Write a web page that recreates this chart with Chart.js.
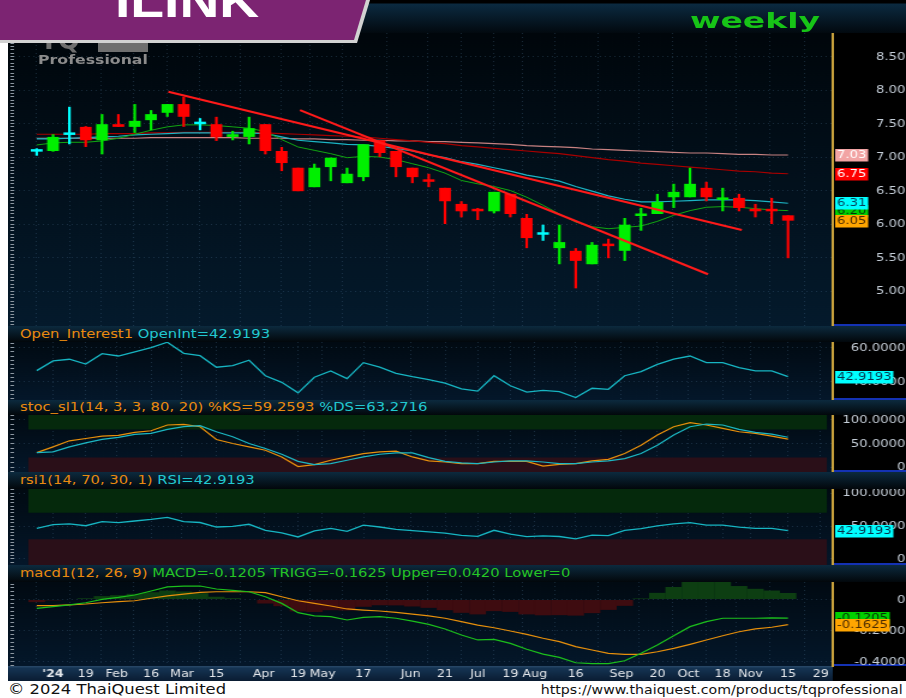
<!DOCTYPE html>
<html>
<head>
<meta charset="utf-8">
<title>ILINK weekly</title>
<script src="https://cdn.jsdelivr.net/npm/chart.js@4.4.1/dist/chart.umd.min.js"></script>
<style>
  html, body { margin: 0; padding: 0; }
  body { position: relative; width: 906px; height: 698px; overflow: hidden; background: #fff; font-family: "DejaVu Sans", sans-serif; }
  canvas { position: absolute; left: 8px; }
  .strip { position: absolute; left: 8px; width: 898px; }
  #head { top: 0; height: 33px; background: linear-gradient(#000 0, #000 3px, #0b2a40 4px, #02090f 100%); }
  .ttl { background: linear-gradient(#0c2a3e, #02070b); }
  .ttl div { position: absolute; left: 12px; top: 0; white-space: nowrap; font-size: 12.3px; transform: scaleX(1.2); transform-origin: 0 50%; }
  .or { color: #e98a10; } .cy { color: #22c8d0; } .gr { color: #25c425; }
  #bannerEdge { position: absolute; left: 0; top: 0; width: 370px; height: 43px; background: #d2d2d2; clip-path: polygon(0 0, 370px 0, 357px 43px, 0 43px); z-index: 5; }
  #banner { position: absolute; left: 0; top: 0; width: 366px; height: 40px; background: #7c2472; clip-path: polygon(0 0, 366px 0, 354px 40px, 0 40px); z-index: 6; overflow: hidden; }
  #banner span { position: absolute; left: 115px; top: -26px; font: bold 46px/54px "Liberation Sans", sans-serif; color: #fff; transform: scaleX(1.2); transform-origin: 0 0; }
  #weekly { position: absolute; left: 690px; top: 8px; font: bold 22px/26px "DejaVu Sans", sans-serif; color: #17c417; transform: scaleX(1.5); transform-origin: 0 0; z-index: 4; }
  #logo { position: absolute; left: 40px; top: 26px; font: bold 26px/28px "DejaVu Sans", sans-serif; color: #6f6f6f; z-index: 3; }
  #logoBlk { position: absolute; left: 98px; top: 40px; width: 50px; height: 12px; background: #6f6f6f; z-index: 3; }
  #prof { position: absolute; left: 38px; top: 53px; font: bold 12.5px/14px "DejaVu Sans", sans-serif; color: #8c8c8c; transform: scaleX(1.26); transform-origin: 0 0; z-index: 3; }
  #copy { position: absolute; left: 8px; top: 681px; font: 14px/17px "DejaVu Sans", sans-serif; color: #111; transform: scaleX(1.17); transform-origin: 0 0; }
  #url { position: absolute; right: 3px; top: 683px; font: 12px/15px "DejaVu Sans", sans-serif; color: #111; transform: scaleX(1.18); transform-origin: 100% 0; }
</style>
</head>
<body>
<div id="head" class="strip"></div>
<div id="bannerEdge"></div>
<div id="banner"><span>ILINK</span></div>
<div id="weekly">weekly</div>

<canvas id="cMain" width="748" height="293" style="top:33px;width:898px;height:293px"></canvas>
<div id="logo">TQ</div><div id="logoBlk"></div><div id="prof">Professional</div>

<div class="strip ttl" style="top:326px;height:16px"><div style="line-height:16px"><span class="or">Open_Interest1</span> <span class="cy">OpenInt=42.9193</span></div></div>
<canvas id="cOI" width="748" height="58" style="top:342px;width:898px;height:58px"></canvas>

<div class="strip ttl" style="top:400px;height:15px"><div style="line-height:15px"><span class="or">stoc_sl1(14, 3, 3, 80, 20) %KS=59.2593</span> <span class="cy">%DS=63.2716</span></div></div>
<canvas id="cSto" width="748" height="57" style="top:415px;width:898px;height:57px"></canvas>

<div class="strip ttl" style="top:472px;height:17px"><div style="line-height:17px"><span class="or">rsi1(14, 70, 30, 1)</span> <span class="cy">RSI=42.9193</span></div></div>
<canvas id="cRsi" width="748" height="76" style="top:489px;width:898px;height:76px"></canvas>

<div class="strip ttl" style="top:565px;height:17px"><div style="line-height:17px"><span class="or">macd1(12, 26, 9)</span> <span class="gr">MACD=-0.1205 TRIGG=-0.1625 Upper=0.0420 Lower=0</span></div></div>
<canvas id="cMacd" width="748" height="99" style="top:582px;width:898px;height:99px"></canvas>

<div id="copy">© 2024 ThaiQuest Limited</div>
<div id="url">https://www.thaiquest.com/products/tqprofessional</div>

<script>
// weekly bars, index 0 = last week of 2023 ... index 46 = Nov 15 2024
const opens  = [7.08, 7.09, 7.33, 7.45, 7.25, 7.49, 7.45, 7.55, 7.66, 7.79, 7.49, 7.49, 7.30, 7.30, 7.49, 7.09,
                6.84, 6.55, 6.85, 6.61, 6.70, 7.25, 7.09, 6.84, 6.64, 6.54, 6.30, 6.20, 6.19, 6.45, 6.09, 5.84,
                5.64, 5.60, 5.40, 5.68, 5.60, 6.12, 6.15, 6.40, 6.40, 6.54, 6.36, 6.39, 6.20, 6.20, 6.13];
const highs  = [7.13, 7.34, 7.75, 7.46, 7.64, 7.64, 7.79, 7.70, 7.79, 7.90, 7.58, 7.60, 7.39, 7.60, 7.49, 7.15,
                6.84, 6.90, 6.99, 6.84, 7.19, 7.25, 7.09, 6.84, 6.75, 6.54, 6.34, 6.24, 6.48, 6.45, 6.15, 5.99,
                5.99, 5.64, 5.73, 5.78, 6.09, 6.24, 6.45, 6.60, 6.84, 6.63, 6.54, 6.45, 6.30, 6.39, 6.13];
const lows   = [7.02, 7.08, 7.19, 7.15, 7.04, 7.45, 7.36, 7.40, 7.60, 7.45, 7.40, 7.24, 7.25, 7.19, 7.04, 6.79,
                6.49, 6.55, 6.64, 6.61, 6.64, 7.00, 6.70, 6.61, 6.55, 6.00, 6.10, 6.06, 6.16, 6.10, 5.64, 5.75,
                5.40, 5.04, 5.40, 5.49, 5.45, 5.90, 6.15, 6.24, 6.40, 6.34, 6.19, 6.19, 6.10, 6.00, 5.49];
const closes = [7.08, 7.30, 7.33, 7.25, 7.49, 7.45, 7.54, 7.64, 7.79, 7.60, 7.49, 7.30, 7.34, 7.43, 7.09, 6.91,
                6.49, 6.84, 6.99, 6.75, 7.19, 7.06, 6.85, 6.70, 6.63, 6.34, 6.19, 6.19, 6.48, 6.15, 5.79, 5.84,
                5.73, 5.45, 5.69, 5.67, 5.99, 6.14, 6.33, 6.48, 6.60, 6.40, 6.37, 6.24, 6.19, 6.19, 6.05];

// moving averages on the price panel
const maGreen = [7.18, 7.21, 7.22, 7.22, 7.24, 7.28, 7.34, 7.40, 7.45, 7.48, 7.48, 7.47, 7.45, 7.43, 7.38, 7.26,
                 7.15, 7.10, 7.05, 6.99, 7.01, 7.00, 6.96, 6.90, 6.84, 6.76, 6.65, 6.60, 6.56, 6.50, 6.40, 6.28,
                 6.15, 6.03, 5.96, 5.93, 5.95, 5.97, 6.04, 6.13, 6.20, 6.25, 6.26, 6.25, 6.23, 6.21, 6.20];
const maCyan  = [7.27, 7.27, 7.28, 7.29, 7.30, 7.31, 7.33, 7.34, 7.35, 7.36, 7.36, 7.36, 7.36, 7.36, 7.35, 7.30,
                 7.25, 7.23, 7.21, 7.19, 7.18, 7.16, 7.13, 7.09, 7.03, 6.99, 6.93, 6.89, 6.84, 6.79, 6.73, 6.69,
                 6.64, 6.56, 6.49, 6.42, 6.37, 6.33, 6.33, 6.34, 6.35, 6.36, 6.36, 6.36, 6.35, 6.33, 6.31];
const maRed   = [7.34, 7.34, 7.34, 7.34, 7.35, 7.35, 7.35, 7.36, 7.36, 7.37, 7.37, 7.37, 7.37, 7.37, 7.36, 7.35,
                 7.34, 7.33, 7.32, 7.31, 7.30, 7.28, 7.26, 7.24, 7.22, 7.20, 7.17, 7.15, 7.13, 7.11, 7.09, 7.07,
                 7.05, 7.02, 6.99, 6.96, 6.94, 6.91, 6.89, 6.87, 6.85, 6.83, 6.81, 6.79, 6.78, 6.76, 6.75];
const maPink  = [7.28, 7.28, 7.28, 7.28, 7.28, 7.28, 7.28, 7.29, 7.29, 7.29, 7.29, 7.29, 7.29, 7.28, 7.28, 7.28,
                 7.27, 7.27, 7.26, 7.26, 7.25, 7.25, 7.24, 7.24, 7.23, 7.23, 7.22, 7.21, 7.20, 7.19, 7.17, 7.16,
                 7.15, 7.14, 7.12, 7.11, 7.10, 7.09, 7.08, 7.07, 7.06, 7.06, 7.05, 7.04, 7.04, 7.03, 7.03];

// hand drawn trend lines (bar index, price)
const trend1X = [8.06, 43.17], trend1Y = [7.975, 5.91];
const trend2X = [16.12, 41.10], trend2Y = [7.70, 5.25];

// rsi; the OpenInt panel shows the same series
const rsiVals = [46.5, 52.2, 53.2, 50.4, 56.5, 55.1, 57.6, 60.0, 63.2, 56.7, 55.3, 48.5, 49.4, 52.6, 43.5, 39.6,
                 33.4, 42.6, 46.3, 41.8, 51.2, 48.5, 44.9, 42.9, 41.2, 39.1, 35.7, 34.4, 43.5, 37.6, 33.8, 34.9,
                 34.1, 30.6, 36.1, 35.5, 43.5, 45.9, 50.2, 53.2, 55.1, 51.2, 51.2, 48.2, 46.3, 46.3, 42.9193];

const stochK = [30.7, 42.9, 55.7, 60.7, 65.7, 67.1, 73.6, 77.1, 89.3, 90.7, 85.7, 58.6, 50.0, 42.9, 35.7, 21.4,
                1.0, 5.0, 14.3, 21.4, 28.6, 32.1, 33.6, 21.4, 12.9, 10.7, 7.1, 7.1, 12.1, 12.1, 12.1, 2.1,
                5.7, 7.1, 12.9, 16.4, 28.6, 46.4, 67.9, 85.7, 94.3, 89.3, 82.1, 75.0, 71.4, 65.7, 59.2593];
const stochD = [30.7, 32.1, 42.9, 51.4, 58.6, 62.9, 69.3, 71.4, 80.0, 85.7, 87.9, 75.0, 64.3, 50.0, 39.3, 27.1,
                12.1, 5.0, 7.1, 14.3, 21.4, 27.1, 30.0, 30.0, 20.0, 12.1, 8.6, 7.1, 10.7, 12.9, 12.9, 10.7,
                7.1, 7.1, 10.7, 12.9, 17.9, 28.6, 46.4, 67.9, 85.7, 91.4, 89.3, 80.0, 73.6, 70.0, 63.2716];
const stochLevels = [80, 20];
const rsiLevels = [70, 30];

const macdLine = [-0.057, -0.046, -0.035, -0.021, 0.001, 0.014, 0.029, 0.055, 0.081, 0.087, 0.087, 0.068, 0.059, 0.050,
                  0.018, -0.025, -0.085, -0.106, -0.111, -0.132, -0.115, -0.111, -0.121, -0.139, -0.160, -0.190,
                  -0.229, -0.261, -0.257, -0.283, -0.321, -0.352, -0.373, -0.408, -0.414, -0.414, -0.395, -0.347,
                  -0.294, -0.234, -0.175, -0.143, -0.121, -0.121, -0.121, -0.119, -0.1205];
const triggLine = [-0.040, -0.040, -0.035, -0.029, -0.021, -0.014, -0.008, 0.008, 0.023, 0.035, 0.046, 0.050, 0.050,
                   0.050, 0.044, 0.018, -0.008, -0.025, -0.042, -0.061, -0.068, -0.074, -0.083, -0.094, -0.106,
                   -0.121, -0.143, -0.165, -0.182, -0.203, -0.225, -0.250, -0.272, -0.304, -0.326, -0.347, -0.354,
                   -0.354, -0.337, -0.315, -0.289, -0.261, -0.234, -0.208, -0.190, -0.179, -0.1625];
const macdHist = [-0.017, -0.006, 0, 0.008, 0.022, 0.028, 0.037, 0.047, 0.058, 0.052, 0.041, 0.018, 0.009, 0,
                  -0.026, -0.043, -0.077, -0.081, -0.069, -0.071, -0.047, -0.037, -0.038, -0.045, -0.054, -0.069,
                  -0.086, -0.096, -0.075, -0.080, -0.096, -0.102, -0.101, -0.104, -0.088, -0.067, -0.041, 0.007,
                  0.043, 0.081, 0.114, 0.118, 0.113, 0.087, 0.069, 0.058, 0.042];

// x axis labels (bar index -> text)
const tickIdx  = [1, 3, 4.9, 7, 8.9, 11, 13.9, 16, 17.5, 20, 22.9, 25, 27, 29, 30.5, 33, 35.8, 38, 39.9, 42, 43.7, 46, 48];
const tickText = ["'24", '19', 'Feb', '16', 'Mar', '15', 'Apr', '19', 'May', '17', 'Jun', '21', 'Jul', '19', 'Aug', '16',
                  'Sep', '20', 'Oct', '18', 'Nov', '15', '29'];
const priceTicks = [5.0, 5.5, 6.0, 6.5, 7.0, 7.5, 8.0, 8.5];
const oiTicks = [40, 60];
const oscTicks = [0, 50, 100];
const macdTicks = [-0.4, -0.2, 0];

const FONT = '"DejaVu Sans", sans-serif';
const X_MIN = -1.39, X_MAX = 48.74;
const BAND_FROM = -0.53, BAND_TO = 48.4;
const GRID = 'rgba(70,110,140,0.32)';

Chart.defaults.font.family = FONT;
Chart.defaults.font.size = 11;

// backgrounds, right axis labels and the coloured last-value tags
const paint = {
  id: 'paint',
  beforeDraw(chart, _a, o) {
    const { ctx, chartArea: a, width, height } = chart;
    ctx.save();
    const g = ctx.createLinearGradient(0, a.top, 0, a.bottom);
    g.addColorStop(0, o.top);
    g.addColorStop(1, o.bottom);
    ctx.fillStyle = g;
    ctx.fillRect(0, a.top, a.right, a.bottom - a.top);
    ctx.fillStyle = '#000';
    ctx.fillRect(a.right, 0, width - a.right, height);
    if (o.axisRow) {
      const g2 = ctx.createLinearGradient(0, a.bottom, 0, height);
      g2.addColorStop(0, '#2b4b6b');
      g2.addColorStop(0.15, '#153453');
      g2.addColorStop(1, '#0a1c32');
      ctx.fillStyle = g2;
      ctx.fillRect(0, a.bottom, a.right, height - a.bottom);
    }
    ctx.restore();
  },
  afterDraw(chart, _a, o) {
    const { ctx, chartArea: a, width } = chart;
    const ys = chart.scales.y;
    ctx.save();
    ctx.fillStyle = '#1432b4';
    ctx.fillRect(a.right + 1, a.bottom - 2, width - a.right, 2);
    ctx.font = '11px ' + FONT;
    ctx.textBaseline = 'middle';
    ctx.textAlign = 'right';
    ctx.fillStyle = '#c5ced8';
    ys.ticks.forEach(t => {
      const txt = (t.value === 0 && o.zero) ? '0' : t.value.toFixed(o.dp);
      ctx.fillText(txt, width - 0.5, ys.getPixelForValue(t.value) + 0.5);
    });
    ctx.textAlign = 'left';
    (o.tags || []).forEach(t => {
      const py = Math.round(ys.getPixelForValue(t.value));
      const txt = t.value.toFixed(o.dp);
      const w = ctx.measureText(txt).width + 3;
      ctx.fillStyle = t.bg;
      ctx.fillRect(a.right + 2, py - 6, w, 12.5);
      ctx.fillStyle = t.fg;
      ctx.fillText(txt, a.right + 3.5, py + 0.5);
    });
    ctx.restore();
  }
};

function xAxis(labels) {
  return {
    type: 'linear', min: X_MIN, max: X_MAX, offset: false,
    afterBuildTicks: s => { s.ticks = tickIdx.map(v => ({ value: v })); },
    afterFit: s => { s.height = labels ? 15 : 0; },
    grid: { color: GRID, drawTicks: false },
    border: { display: false, dash: [1, 3] },
    ticks: labels ? {
      display: true, autoSkip: false, maxRotation: 0, minRotation: 0, padding: 1.5,
      color: '#e4e7eb',
      font: c => ({ size: 10.5, family: FONT, weight: c.index === 0 ? 'bold' : 'normal' }),
      callback: (v, i) => tickText[i]
    } : { display: false }
  };
}

function yAxis(min, max, ticks) {
  return {
    type: 'linear', position: 'right', min, max,
    afterBuildTicks: s => { s.ticks = ticks.map(v => ({ value: v })); },
    afterFit: s => { s.width = 61; },
    grid: { color: GRID, drawTicks: false },
    border: { display: true, color: '#c9a23c', width: 2, dash: [1, 3] },
    ticks: { display: false }
  };
}

function ruler(min, max, step) {
  return {
    type: 'linear', position: 'left', min, max,
    afterBuildTicks: s => {
      const t = [];
      for (let k = Math.ceil(min / step - 1e-9); k * step <= max + 1e-9; k++) t.push({ value: k * step });
      s.ticks = t;
    },
    afterFit: s => { s.width = 5; },
    grid: { drawOnChartArea: false, drawTicks: true, tickLength: 3, tickColor: '#8d98a2', tickWidth: 1 },
    border: { display: false },
    ticks: { display: false }
  };
}

function options(min, max, ticks, step, paintOpts, labels) {
  return {
    responsive: false, animation: false, devicePixelRatio: 1, events: [],
    layout: { padding: 0 },
    plugins: { legend: { display: false }, tooltip: { enabled: false }, paint: paintOpts },
    scales: { x: xAxis(labels), yl: ruler(min, max, step), y: yAxis(min, max, ticks) }
  };
}

const pts = arr => arr.map((v, i) => ({ x: i, y: v }));
const line = (arr, color, width, order) => ({
  type: 'line', data: pts(arr), borderColor: color, borderWidth: width,
  pointRadius: 0, tension: 0, fill: false, order
});
const band = (y, to, color) => ({
  type: 'line', data: [{ x: BAND_FROM, y }, { x: BAND_TO, y }], borderWidth: 0,
  pointRadius: 0, fill: { value: to }, backgroundColor: color, order: 20
});

// price panel
const candleColor = closes.map((c, i) => c > opens[i] ? '#00f000' : (c < opens[i] ? '#ff0000' : '#00ffff'));
const P_MIN = 4.478, P_MAX = 8.851;
new Chart(document.getElementById('cMain'), {
  type: 'bar',
  data: {
    datasets: [
      { type: 'line', data: trend1X.map((x, i) => ({ x, y: trend1Y[i] })), borderColor: '#ff1a1a', borderWidth: 2.2, pointRadius: 0, order: 0 },
      { type: 'line', data: trend2X.map((x, i) => ({ x, y: trend2Y[i] })), borderColor: '#ff1a1a', borderWidth: 2.2, pointRadius: 0, order: 0 },
      { type: 'bar', data: closes.map((c, i) => ({ x: i, y: [opens[i], c] })), backgroundColor: candleColor,
        borderWidth: 0, grouped: false, maxBarThickness: 10, minBarLength: 2.5, order: 1 },
      { type: 'bar', data: closes.map((c, i) => ({ x: i, y: [lows[i], highs[i]] })), backgroundColor: candleColor,
        borderWidth: 0, grouped: false, maxBarThickness: 2.2, order: 2 },
      line(maGreen, '#12a812', 1, 3),
      line(maCyan, '#1cb4c4', 1.2, 4),
      line(maRed, '#a80000', 1.2, 5),
      line(maPink, '#c88282', 1.2, 6)
    ]
  },
  options: options(P_MIN, P_MAX, priceTicks, 0.05, {
    top: '#00060b', bottom: '#041a2c', dp: 2,
    tags: [
      { value: maPink.at(-1), bg: '#f2a4a4', fg: '#ffffff' },
      { value: maRed.at(-1), bg: '#ff0000', fg: '#ffffff' },
      { value: maGreen.at(-1), bg: '#00d000', fg: '#063006' },
      { value: maCyan.at(-1), bg: '#00ffff', fg: '#06405a' },
      { value: closes.at(-1), bg: '#ffa500', fg: '#4a2a00' }
    ]
  }, false),
  plugins: [paint]
});

const lowerPaint = (dp, zero, tags) => ({ top: '#010a12', bottom: '#04172a', dp, zero, tags });

// open interest panel
new Chart(document.getElementById('cOI'), {
  type: 'line',
  data: { datasets: [line(rsiVals, '#17b5c2', 1.3, 1)] },
  options: options(29.2, 63.35, oiTicks, 2.5,
    lowerPaint(4, false, [{ value: rsiVals.at(-1), bg: '#00ffff', fg: '#06304a' }]), false),
  plugins: [paint]
});

// stochastic panel
new Chart(document.getElementById('cSto'), {
  type: 'line',
  data: { datasets: [
    band(110.6, stochLevels[0], '#05290c'),
    band(-10.6, stochLevels[1], '#2a0f18'),
    line(stochK, '#e8900c', 1.2, 2),
    line(stochD, '#1cb8c4', 1.2, 1)
  ] },
  options: options(-10.6, 110.6, oscTicks, 10, lowerPaint(4, true, []), false),
  plugins: [paint]
});

// rsi panel
new Chart(document.getElementById('cRsi'), {
  type: 'line',
  data: { datasets: [
    band(106.1, rsiLevels[0], '#05290c'),
    band(-9.1, rsiLevels[1], '#2a0f18'),
    line(rsiVals, '#17b5c2', 1.3, 1)
  ] },
  options: options(-9.1, 106.1, oscTicks, 5,
    lowerPaint(4, true, [{ value: rsiVals.at(-1), bg: '#00ffff', fg: '#06304a' }]), false),
  plugins: [paint]
});

// macd panel, carries the date axis
const macdOpts = options(-0.429, 0.113, macdTicks, 0.025, lowerPaint(4, true, [
  { value: macdLine.at(-1), bg: '#00d000', fg: '#063006' },
  { value: triggLine.at(-1), bg: '#ffa500', fg: '#4a2a00' }
]), true);
macdOpts.plugins.paint.axisRow = true;
new Chart(document.getElementById('cMacd'), {
  type: 'bar',
  data: { datasets: [
    { type: 'bar', data: pts(macdHist), backgroundColor: macdHist.map(v => v >= 0 ? '#0d3e12' : '#3e0c10'),
      borderWidth: 0, grouped: false, categoryPercentage: 1, barPercentage: 1.02, order: 5 },
    line(macdLine, '#1cc01c', 1.2, 1),
    line(triggLine, '#e8900c', 1.2, 2)
  ] },
  options: macdOpts,
  plugins: [paint]
});
</script>
</body>
</html>
